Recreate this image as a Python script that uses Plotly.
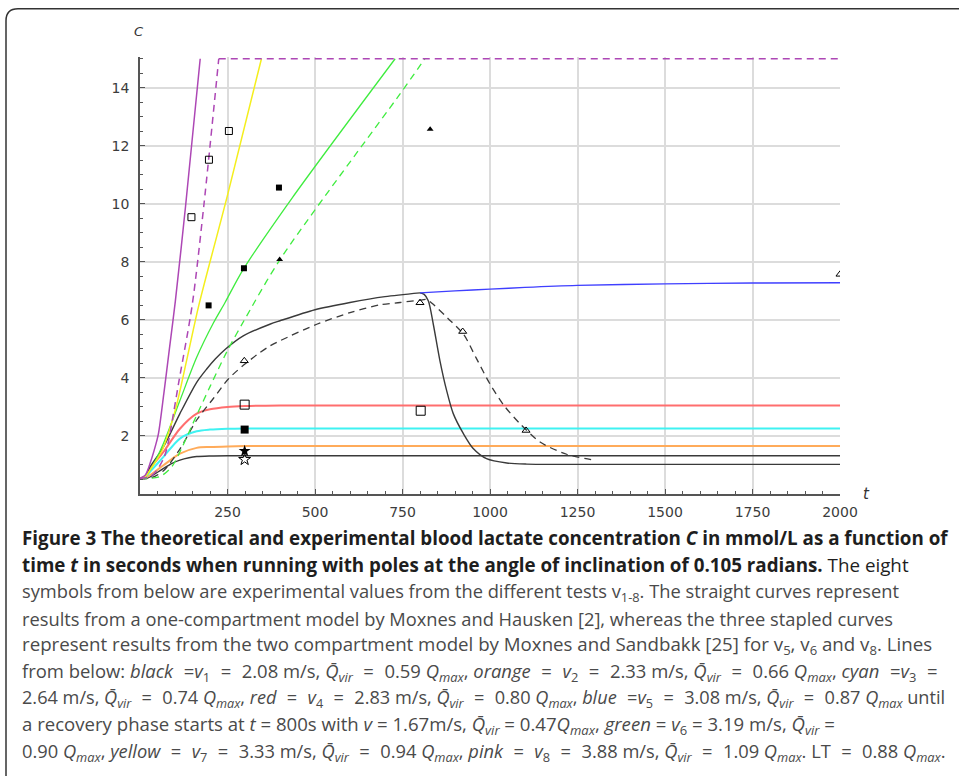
import plotly.graph_objects as go

# ---------------- data ----------------
# one-compartment model curves (solid)
t_v1 = [0, 15, 30, 50, 67, 90, 114, 140, 162, 200, 250, 300, 400, 2000]
c_v1 = [0.54, 0.53, 0.6, 0.75, 0.88, 1.05, 1.17, 1.25, 1.29, 1.31, 1.32, 1.32, 1.32, 1.32]

t_v2 = [0, 15, 29, 67, 114, 162, 200, 250, 300, 2000]
c_v2 = [0.54, 0.56, 0.65, 0.99, 1.39, 1.59, 1.62, 1.64, 1.65, 1.65]

t_v3 = [0, 15, 29, 67, 114, 162, 200, 250, 300, 400, 2000]
c_v3 = [0.54, 0.58, 0.77, 1.28, 1.91, 2.16, 2.22, 2.25, 2.26, 2.26, 2.26]

t_v4 = [0, 15, 29, 67, 114, 162, 200, 250, 300, 400, 2000]
c_v4 = [0.54, 0.6, 0.88, 1.45, 2.25, 2.77, 2.92, 3.0, 3.03, 3.05, 3.05]

t_v5 = [0, 15, 29, 67, 114, 162, 190, 215, 243, 295, 371, 400, 500, 600, 700, 800]
c_v5 = [0.54, 0.62, 0.94, 1.62, 2.77, 3.85, 4.3, 4.65, 4.98, 5.45, 5.85, 5.97, 6.35, 6.6, 6.8, 6.93]

t_v5_blue = [800, 900, 1000, 1100, 1250, 1500, 1750, 2000]
c_v5_blue = [6.93, 7.0, 7.06, 7.12, 7.19, 7.24, 7.27, 7.28]

t_v5_rec = [800, 812, 824, 838, 857, 876, 895, 924, 952, 990, 1048, 1105, 1200, 2000]
c_v5_rec = [6.93, 6.88, 6.65, 5.85, 4.59, 3.57, 2.77, 2.08, 1.57, 1.22, 1.07, 1.03, 1.02, 1.02]

t_v6 = [0, 15, 29, 67, 114, 162, 210, 243, 295, 434, 729]
c_v6 = [0.54, 0.6, 0.82, 1.74, 3.22, 4.71, 5.9, 6.6, 7.74, 10.19, 15]

t_v7 = [0, 15, 30, 63, 101, 135, 168, 249, 347]
c_v7 = [0.54, 0.6, 0.85, 1.5, 2.9, 4.7, 6.5, 10.25, 15]

t_v8 = [0, 15, 30, 45, 53, 68, 84, 101, 130, 172]
c_v8 = [0.54, 0.65, 1.1, 1.7, 2.1, 3.45, 5.0, 6.65, 9.9, 15]

# two-compartment model curves (dashed)
t_v5_2c = [0, 30, 67, 114, 162, 210, 253, 297, 340, 371, 400, 505, 600, 686, 743, 800, 820,
           843, 880, 924, 960, 1000, 1040, 1086, 1143, 1219, 1295]
c_v5_2c = [0.54, 0.55, 0.8, 1.55, 2.55, 3.3, 3.97, 4.45, 4.85, 5.1, 5.28, 5.85, 6.25, 6.52, 6.6,
           6.68, 6.7, 6.48, 6.05, 5.51, 4.7, 3.79, 3.05, 2.42, 1.79, 1.37, 1.17]

t_v6_2c = [0, 30, 60, 91, 120, 150, 200, 248, 297, 400, 743, 814]
c_v6_2c = [0.54, 0.54, 0.62, 0.94, 1.6, 2.4, 3.7, 4.9, 5.97, 8.08, 13.79, 15]

t_v8_2c = [0, 30, 50, 70, 82, 96, 110, 149, 182, 225, 2000]
c_v8_2c = [0.54, 0.6, 0.85, 1.3, 1.85, 2.8, 3.8, 6.5, 9.9, 15, 15]

# experimental values
exp_t_v1 = [299];  exp_c_v1 = [1.19]
exp_t_v2 = [299];  exp_c_v2 = [1.48]
exp_t_v3 = [299];  exp_c_v3 = [2.22]
exp_t_v4 = [299, 802];  exp_c_v4 = [3.08, 2.87]
exp_t_v5 = [298, 800, 922, 1103, 2000];  exp_c_v5 = [4.59, 6.59, 5.6, 2.19, 7.57]
exp_t_v6 = [399, 829];  exp_c_v6 = [8.08, 12.57]
exp_t_v7 = [196, 297, 397];  exp_c_v7 = [6.5, 7.78, 10.56]
exp_t_v8 = [147, 197, 254];  exp_c_v8 = [9.54, 11.52, 12.51]

x_ticks = [250, 500, 750, 1000, 1250, 1500, 1750, 2000]
y_ticks = [2, 4, 6, 8, 10, 12, 14]

# ---------------- styles ----------------
BLACK = "#3a3a3a"
ORANGE = "#ffab5a"
CYAN = "#3ff2f2"
RED = "#ff6e6e"
BLUE = "#3f3fff"
GREEN = "#3fec3f"
YELLOW = "#f4ee1c"
PINK = "#ad47b5"
DASH = "7px,5px"

W, H = 959, 776
YTOP = 15.06
PL, PR, PB = 140, 840, 494
UNIT = 435 / 15.0            # pixels per unit of C
PT = PB - UNIT * YTOP


def px(xp):
    return (xp - PL) / (PR - PL)


def py(yp):
    return (PB - yp) / (PB - PT)


fig = go.Figure()


def line(t, c, color, width=1.3, dash=None, shape="spline"):
    fig.add_trace(go.Scatter(x=t, y=c, mode="lines",
                             line=dict(color=color, width=width, dash=dash,
                                       shape=shape, smoothing=0.8),
                             hoverinfo="skip", showlegend=False))


line(t_v1, c_v1, BLACK, 1.4)
line(t_v2, c_v2, ORANGE, 2)
line(t_v3, c_v3, CYAN, 2)
line(t_v4, c_v4, RED, 2)
line(t_v5_rec, c_v5_rec, BLACK, 1.4)
line(t_v5, c_v5, BLACK, 1.4)
line(t_v5_blue, c_v5_blue, BLUE, 1.4)
line(t_v5_2c, c_v5_2c, BLACK, 1.3, DASH)
line(t_v6, c_v6, GREEN, 1.3)
line(t_v6_2c, c_v6_2c, GREEN, 1.3, DASH)
line(t_v7, c_v7, YELLOW, 1.5)
line(t_v8, c_v8, PINK, 1.5)
# pink dashed: rise (smooth) then the flat part (straight)
k = c_v8_2c.index(max(c_v8_2c))
line(t_v8_2c[:k + 1], c_v8_2c[:k + 1], PINK, 1.5, DASH)
line(t_v8_2c[k:], c_v8_2c[k:], PINK, 1.5, DASH, shape="linear")


def pts(t, c, symbol, size, lw=1):
    fig.add_trace(go.Scatter(x=t, y=c, mode="markers",
                             marker=dict(symbol=symbol, size=size, color="black",
                                         line=dict(color="black", width=lw)),
                             hoverinfo="skip", showlegend=False))


pts(exp_t_v1, exp_c_v1, "star-open", 9)
pts(exp_t_v2, exp_c_v2, "star", 9, 0)
pts(exp_t_v3, exp_c_v3, "square", 8, 0)
pts(exp_t_v4, exp_c_v4, "square-open", 9)
pts(exp_t_v5, exp_c_v5, "triangle-up-open", 7)
pts(exp_t_v6, exp_c_v6, "triangle-up", 6, 0)
pts(exp_t_v7, exp_c_v7, "square", 6, 0)
pts(exp_t_v8, exp_c_v8, "square-open", 7)

AX = "#555555"
GRID = "#dcdcdc"
TF = dict(family="DejaVu Sans", size=14, color="#3c3c3c")

fig.update_xaxes(range=[0, 2000], tickmode="array", tickvals=x_ticks,
                 ticktext=[str(v) for v in x_ticks], showgrid=True, gridcolor=GRID,
                 gridwidth=1.5, showline=True, linecolor=AX, linewidth=1.5,
                 ticks="inside", ticklen=5, tickcolor=AX, zeroline=False,
                 tickfont=TF, ticklabelstandoff=4,
                 minor=dict(tickmode="linear", tick0=0, dtick=50, ticks="inside",
                            ticklen=3, tickcolor=AX, showgrid=False))
fig.update_yaxes(range=[0, YTOP], tickmode="array", tickvals=y_ticks,
                 ticktext=[str(v) for v in y_ticks], showgrid=True, gridcolor=GRID,
                 gridwidth=1.5, showline=True, linecolor=AX, linewidth=1.5,
                 ticks="inside", ticklen=5, tickcolor=AX, zeroline=False,
                 tickfont=TF, ticklabelstandoff=6,
                 minor=dict(tickmode="linear", tick0=0, dtick=0.5, ticks="inside",
                            ticklen=3, tickcolor=AX, showgrid=False))

annotations = [
    dict(x=px(139), y=py(32), text="<i>C</i>",
         font=dict(family="DejaVu Sans", size=13, color="#333")),
    dict(x=px(867), y=py(494), text="<i>t</i>",
         font=dict(family="DejaVu Sans", size=15, color="#333")),
]
for a in annotations:
    a.update(xref="paper", yref="paper", showarrow=False,
             xanchor="center", yanchor="middle")

S = "\u2007"                      # wider space used around math '=' signs
EQ = S + "=" + S
QV = "<i>Q̄<sub>vir</sub></i>"
QM = "<i>Q<sub>max</sub></i>"
caption = [
    "<b>Figure 3 The theoretical and experimental blood lactate concentration <i>C</i> in mmol/L as a function of</b>",
    "<b>time <i>t</i> in seconds when running with poles at the angle of inclination of 0.105 radians.</b> The eight",
    "symbols from below are experimental values from the different tests v<sub>1-8</sub>. The straight curves represent",
    "results from a one-compartment model by Moxnes and Hausken [2], whereas the three stapled curves",
    "represent results from the two compartment model by Moxnes and Sandbakk [25] for v<sub>5</sub>, v<sub>6</sub> and v<sub>8</sub>. Lines",
    "from below: <i>black</i>" + S + "=<i>v</i><sub>1</sub>" + EQ + "2.08 m/s, " + QV + EQ + "0.59 " + QM
    + ", <i>orange</i>" + EQ + "<i>v</i><sub>2</sub>" + EQ + "2.33 m/s, " + QV + EQ + "0.66 " + QM
    + ", <i>cyan</i>" + S + "=<i>v</i><sub>3</sub>" + S + "=",
    "2.64 m/s, " + QV + EQ + "0.74 " + QM + ", <i>red</i>" + EQ + "<i>v</i><sub>4</sub>" + EQ + "2.83 m/s, "
    + QV + EQ + "0.80 " + QM + ", <i>blue</i>" + S + "=<i>v</i><sub>5</sub>" + EQ + "3.08 m/s, " + QV
    + EQ + "0.87 " + QM + " until",
    "a recovery phase starts at <i>t</i> = 800s with <i>v</i> = 1.67m/s, " + QV + " = 0.47" + QM
    + ", <i>green</i> = <i>v</i><sub>6</sub> = 3.19 m/s, " + QV + " =",
    "0.90 " + QM + ", <i>yellow</i>" + EQ + "<i>v</i><sub>7</sub>" + EQ + "3.33 m/s, " + QV + EQ + "0.94 " + QM
    + ", <i>pink</i>" + EQ + "<i>v</i><sub>8</sub>" + EQ + "3.88 m/s, " + QV + EQ + "1.09 " + QM
    + ". LT" + EQ + "0.88 " + QM + ".",
]
sizes = [18.8, 18.8, 18.3, 18.3, 18.7, 18.45, 18.15, 18.6, 18.3]
for i, txt in enumerate(caption):
    annotations.append(dict(x=px(20), y=py(538 + 26.75 * i), text=txt, showarrow=False,
                            xref="paper", yref="paper",
                            xanchor="left", yanchor="middle", align="left",
                            font=dict(family="Open Sans", size=sizes[i],
                                      color="#1e1e1e" if i < 2 else "#4a4a4a")))

# rounded frame around figure + caption (runs off the right and bottom edges)
x0, y0, r = 6, 9, 12
path = (f"M {px(x0)},{py(800)} L {px(x0)},{py(y0 + r)} "
        f"Q {px(x0)},{py(y0)} {px(x0 + r)},{py(y0)} L {px(980)},{py(y0)}")

fig.update_layout(
    width=W, height=H,
    margin=dict(l=PL, r=W - PR, t=PT, b=H - PB, pad=0),
    paper_bgcolor="white", plot_bgcolor="white",
    annotations=annotations,
    shapes=[dict(type="path", path=path, xref="paper", yref="paper",
                 line=dict(color="#333", width=1.5))],
    showlegend=False,
)

fig.write_html("out.html", config={"displayModeBar": False},
               post_script="document.body.style.margin='0';document.body.style.overflow='hidden';")
